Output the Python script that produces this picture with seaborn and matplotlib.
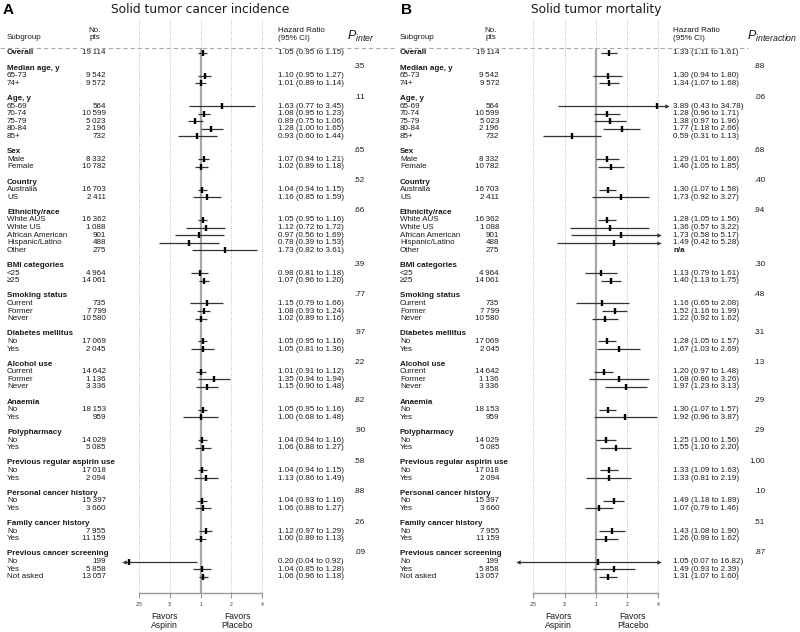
import numpy as np
import pandas as pd
import matplotlib
matplotlib.use("Agg")
import matplotlib.pyplot as plt
import seaborn as sns
from matplotlib.transforms import blended_transform_factory as btf
from matplotlib.lines import Line2D

# ---------------- data ----------------
group_headers = ["Median age, y", "Age, y", "Sex", "Country", "Ethnicity/race",
                 "BMI categories", "Smoking status", "Diabetes mellitus", "Alcohol use",
                 "Anaemia", "Polypharmacy", "Previous regular aspirin use",
                 "Personal cancer history", "Family cancer history",
                 "Previous cancer screening"]
group_levels = [["65-73", "74+"], ["65-69", "70-74", "75-79", "80-84", "85+"],
                ["Male", "Female"], ["Australia", "US"],
                ["White AUS", "White US", "African American", "Hispanic/Latino", "Other"],
                ["<25", "≥25"], ["Current", "Former", "Never"], ["No", "Yes"],
                ["Current", "Former", "Never"], ["No", "Yes"], ["No", "Yes"],
                ["No", "Yes"], ["No", "Yes"], ["No", "Yes"], ["No", "Yes", "Not asked"]]

# overall first, then all levels in order
n_pts = [19114,
         9542, 9572,
         564, 10599, 5023, 2196, 732,
         8332, 10782,
         16703, 2411,
         16362, 1088, 901, 488, 275,
         4964, 14061,
         735, 7799, 10580,
         17069, 2045,
         14642, 1136, 3336,
         18153, 959,
         14029, 5085,
         17018, 2094,
         15397, 3660,
         7955, 11159,
         199, 5858, 13057]

inc_hr = [1.05, 1.10, 1.01, 1.63, 1.08, 0.89, 1.28, 0.93, 1.07, 1.02, 1.04, 1.16,
          1.05, 1.12, 0.97, 0.78, 1.73, 0.98, 1.07, 1.15, 1.08, 1.02, 1.05, 1.05,
          1.01, 1.35, 1.15, 1.05, 1.00, 1.04, 1.06, 1.04, 1.13, 1.04, 1.06, 1.12,
          1.00, 0.20, 1.04, 1.06]
inc_lo = [0.95, 0.95, 0.89, 0.77, 0.95, 0.75, 1.00, 0.60, 0.94, 0.89, 0.94, 0.85,
          0.95, 0.72, 0.56, 0.39, 0.82, 0.81, 0.96, 0.79, 0.93, 0.89, 0.95, 0.81,
          0.91, 0.94, 0.90, 0.95, 0.68, 0.94, 0.88, 0.94, 0.86, 0.93, 0.88, 0.97,
          0.89, 0.04, 0.85, 0.96]
inc_hi = [1.15, 1.27, 1.14, 3.45, 1.23, 1.06, 1.65, 1.44, 1.21, 1.18, 1.15, 1.59,
          1.16, 1.72, 1.69, 1.53, 3.61, 1.18, 1.20, 1.66, 1.24, 1.16, 1.16, 1.36,
          1.12, 1.94, 1.48, 1.16, 1.48, 1.16, 1.27, 1.15, 1.49, 1.16, 1.27, 1.29,
          1.13, 0.92, 1.28, 1.18]
inc_p = [".35", ".11", ".65", ".52", ".66", ".39", ".77", ".97", ".22", ".82",
         ".90", ".58", ".88", ".26", ".09"]

mort_hr = [1.33, 1.30, 1.34, 3.89, 1.28, 1.38, 1.77, 0.59, 1.29, 1.40, 1.30, 1.73,
           1.28, 1.36, 1.73, 1.49, np.nan, 1.13, 1.40, 1.16, 1.52, 1.22, 1.28, 1.67,
           1.20, 1.68, 1.97, 1.30, 1.92, 1.25, 1.55, 1.33, 1.33, 1.49, 1.07, 1.43,
           1.26, 1.05, 1.49, 1.31]
mort_lo = [1.11, 0.94, 1.07, 0.43, 0.96, 0.97, 1.18, 0.31, 1.01, 1.05, 1.07, 0.92,
           1.05, 0.57, 0.58, 0.42, np.nan, 0.79, 1.13, 0.65, 1.16, 0.92, 1.05, 1.03,
           0.97, 0.86, 1.23, 1.07, 0.96, 1.00, 1.10, 1.09, 0.81, 1.18, 0.79, 1.08,
           0.99, 0.07, 0.93, 1.07]
mort_hi = [1.61, 1.80, 1.68, 34.78, 1.71, 1.96, 2.66, 1.13, 1.66, 1.85, 1.58, 3.27,
           1.56, 3.22, 5.17, 5.28, np.nan, 1.61, 1.75, 2.08, 1.99, 1.62, 1.57, 2.69,
           1.48, 3.26, 3.13, 1.57, 3.87, 1.56, 2.20, 1.63, 2.19, 1.89, 1.46, 1.90,
           1.62, 16.82, 2.39, 1.60]
mort_p = [".88", ".06", ".68", ".40", ".94", ".30", ".48", ".31", ".13", ".29",
          ".29", "1.00", ".10", ".51", ".87"]

tick_vals = [0.25, 0.5, 1, 2, 4]
tick_labels = [".25", ".5", "1", "2", "4"]

# ---------------- style ----------------
sns.set_theme(style="white")
plt.rcParams["font.family"] = ["Liberation Sans", "DejaVu Sans"]
plt.rcParams["mathtext.fontset"] = "custom"
plt.rcParams["mathtext.it"] = "Liberation Sans:italic"
plt.rcParams["mathtext.rm"] = "Liberation Sans"

W, H = 800, 632
fig = plt.figure(figsize=(W / 100, H / 100), dpi=100)
fig.patch.set_facecolor("white")

ROW0, ROWSTEP = 53.0, 7.59
def prow(py):
    return (py - ROW0) / ROWSTEP

# layout of rows
row_labels, row_y, row_bold, row_data_idx = [], [], [], []
header_y = []
r = 0
row_labels.append("Overall"); row_y.append(0); row_bold.append(True); row_data_idx.append(0)
di = 1
for h, levs in zip(group_headers, group_levels):
    r += 2
    row_labels.append(h); row_y.append(r); row_bold.append(True); row_data_idx.append(None)
    header_y.append(r)
    for lv in levs:
        r += 1
        row_labels.append(lv); row_y.append(r); row_bold.append(False); row_data_idx.append(di)
        di += 1
level_y = [0] + [y for y, d in zip(row_y, row_data_idx) if d is not None and d > 0]

def fmt_n(n):
    s = f"{n:,}"
    return s.replace(",", "\u2009")

TXT = "#1a1a1a"
FS = 5.8
LINEC = "#333333"
GRID = "#9a9a9a"

panels = [
    dict(letter="A", letter_x=3, title="Solid tumor cancer incidence",
         hr=inc_hr, lo=inc_lo, hi=inc_hi, p=inc_p, x1=200.5, k=30.75,
         sub_x=7, n_x=106, nohdr_x=95, hr_x=278, p_x=365, ph_x=347,
         ph=r"$P_{inter}$", dash=(0, 395)),
    dict(letter="B", letter_x=401, title="Solid tumor mortality",
         hr=mort_hr, lo=mort_lo, hi=mort_hi, p=mort_p, x1=595.8, k=31.25,
         sub_x=400, n_x=499, nohdr_x=491, hr_x=673, p_x=765, ph_x=747,
         ph=r"$P_{interaction}$", dash=(400, 748)),
]

XMIN, XMAX = 0.15, 5.0
TOP_PX, BOT_PX = 12.0, 593.0
LCLIP, RCLIP = 0.178, 4.08

for P in panels:
    left_px = P["x1"] + P["k"] * np.log2(XMIN)
    right_px = P["x1"] + P["k"] * np.log2(XMAX)
    ax = fig.add_axes([left_px / W, 1 - BOT_PX / H, (right_px - left_px) / W, (BOT_PX - TOP_PX) / H])
    ax.set_xscale("log", base=2)
    ax.set_xlim(XMIN, XMAX)
    ax.set_ylim(prow(BOT_PX), prow(TOP_PX))
    ax.patch.set_alpha(0)
    for s in ["top", "right", "left"]:
        ax.spines[s].set_visible(False)
    ax.spines["bottom"].set_bounds(0.25, 4)
    ax.spines["bottom"].set_color(GRID)
    ax.spines["bottom"].set_linewidth(1.0)
    ax.set_yticks([])
    ax.set_xticks(tick_vals)
    ax.set_xticklabels(tick_labels)
    ax.xaxis.set_minor_locator(matplotlib.ticker.NullLocator())
    ax.tick_params(axis="x", direction="out", length=3.5, width=0.8, color=GRID,
                   labelsize=3.6, labelcolor="#333333", pad=3, bottom=True)
    ax.set_xlabel(""); ax.set_ylabel("")

    # reference lines
    y_top = prow(20)
    y_dash = prow(48)
    y_bot = prow(BOT_PX)
    ax.vlines([0.25, 0.5, 2, 4], y_top, y_bot, colors=GRID, linestyles=(0, (0.6, 1.8)), linewidth=0.7)
    ax.vlines([1], y_top, y_dash, colors=GRID, linestyles=(0, (0.6, 1.8)), linewidth=0.7)
    ax.vlines([1], y_dash, y_bot, colors="#a8a8a8", linewidth=1.6)

    df = pd.DataFrame({"y": level_y, "hr": P["hr"], "lo": P["lo"], "hi": P["hi"]})
    valid = df.dropna()
    lo_c = valid["lo"].clip(lower=LCLIP)
    hi_c = valid["hi"].clip(upper=RCLIP)
    hi_c = np.where((valid["hi"] > RCLIP) & (valid["hr"] > 3.5), valid["hr"] * 1.24, hi_c)
    ax.hlines(valid["y"], lo_c, hi_c, colors=LINEC, linewidth=0.9)
    # arrows for truncated intervals
    left_tr = valid[valid["lo"] < LCLIP]
    right_tr = valid[valid["hi"] > RCLIP]
    ax.scatter(lo_c[valid["lo"] < LCLIP], left_tr["y"], marker="<", s=10, color=LINEC, linewidths=0)
    ax.scatter(np.asarray(hi_c)[(valid["hi"] > RCLIP).values], right_tr["y"], marker=">", s=10,
               color=LINEC, linewidths=0)
    sns.scatterplot(data=valid, x="hr", y="y", marker="|", s=24, color="black",
                    linewidth=1.7, ax=ax, legend=False, zorder=5)
    ax.set_xlabel(""); ax.set_ylabel("")

    tr = btf(fig.transFigure, ax.transData)
    fxp = lambda px: px / W

    # column headers
    ax.text(fxp(P["sub_x"]), prow(37.5), "Subgroup", transform=tr, fontsize=FS, color=TXT,
            ha="left", va="center", clip_on=False)
    ax.text(fxp(P["nohdr_x"]), prow(30), "No.", transform=tr, fontsize=FS, color=TXT,
            ha="center", va="center", clip_on=False)
    ax.text(fxp(P["nohdr_x"]), prow(37.5), "pts", transform=tr, fontsize=FS, color=TXT,
            ha="center", va="center", clip_on=False)
    ax.text(fxp(P["hr_x"]), prow(30), "Hazard Ratio", transform=tr, fontsize=FS, color=TXT,
            ha="left", va="center", clip_on=False)
    ax.text(fxp(P["hr_x"]), prow(38), "(95% CI)", transform=tr, fontsize=FS, color=TXT,
            ha="left", va="center", clip_on=False)
    ax.text(fxp(P["ph_x"]), prow(36), P["ph"], transform=tr, fontsize=9, color=TXT,
            ha="left", va="center", clip_on=False)

    # rows
    for lab, y, b, d in zip(row_labels, row_y, row_bold, row_data_idx):
        ax.text(fxp(P["sub_x"]), y, lab, transform=tr, fontsize=FS, color=TXT,
                fontweight="bold" if b else "normal", ha="left", va="center", clip_on=False)
        if d is not None:
            ax.text(fxp(P["n_x"]), y, fmt_n(n_pts[d]), transform=tr, fontsize=FS, color=TXT,
                    ha="right", va="center", clip_on=False)
            h, l, u = P["hr"][d], P["lo"][d], P["hi"][d]
            if np.isnan(h):
                s, w = "n/a", "bold"
            else:
                s, w = f"{h:.2f} ({l:.2f} to {u:.2f})", "normal"
            ax.text(fxp(P["hr_x"]), y, s, transform=tr, fontsize=FS, color=TXT,
                    fontweight=w, ha="left", va="center", clip_on=False)
    for y, pv in zip(header_y, P["p"]):
        ax.text(fxp(P["p_x"]), y - 0.2, pv, transform=tr, fontsize=FS, color=TXT,
                ha="right", va="center", clip_on=False)

    # favors labels
    ax.text(0.44, prow(621), "Favors\nAspirin", fontsize=6.2, color=TXT, ha="center",
            va="center", linespacing=0.95, clip_on=False)
    ax.text(2.28, prow(621), "Favors\nPlacebo", fontsize=6.2, color=TXT, ha="center",
            va="center", linespacing=0.95, clip_on=False)

    # titles
    fig.text(P["x1"] / W, 1 - 9.5 / H, P["title"], fontsize=8.8, family="DejaVu Sans",
             color=TXT, ha="center", va="center")
    fig.text(P["letter_x"] / W, 1 - 10 / H, P["letter"], fontsize=11, fontweight="bold",
             color="black", ha="left", va="center")
    # dashed separator
    fig.add_artist(Line2D([P["dash"][0] / W, P["dash"][1] / W], [1 - 48 / H, 1 - 48 / H],
                          color="#aaaaaa", linewidth=0.8, linestyle=(0, (4, 2.5))))

fig.savefig("out.png", dpi=100, facecolor="white")
